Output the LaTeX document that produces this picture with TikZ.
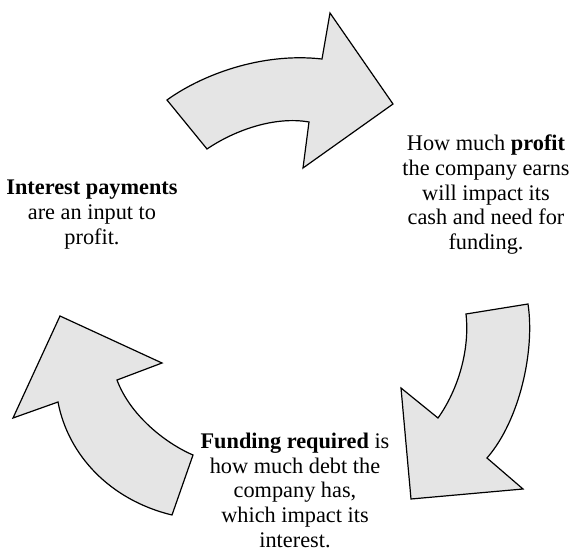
\documentclass[tikz,border=0pt]{standalone}
\usepackage{fontspec}
\setmainfont{Liberation Serif}
\usetikzlibrary{calc}
\definecolor{arrowgray}{gray}{0.9}
\tikzset{
    cyclearrow/.style={draw=black,fill=arrowgray,line width=1.2pt,line join=miter},
    note/.style={align=center,inner sep=0pt,anchor=north,font=\fontsize{22.3}{24.6}\selectfont}
}
\begin{document}
\begin{tikzpicture}[x=1pt,y=-1pt]
\useasboundingbox (0,0) rectangle (576,554);
\draw[cyclearrow] (167,100)..controls(200,76) and (260,52)..(322,59)--(330,13)--(393,104)--(303,168)--(309,122)..controls(275,116) and (235,130)..(207,149)--cycle;
\draw[cyclearrow] (466,314)--(528,304)..controls(535,350) and (520,420)..(487,458)--(523,489)--(411,499)--(401,388)--(438,418)..controls(458,390) and (470,350)..(466,314)--cycle;
\draw[cyclearrow] (172,515)--(193,455)..controls(165,443) and (130,415)..(117,380)--(162,363)--(60,316)--(13,418)--(58,402)..controls(68,455) and (110,500)..(172,515)--cycle;
\node[note] (profit) at (486,135) {How much \textbf{profit}\\the company earns\\will impact its\\cash and need for\\funding.};
\node[note] (interest) at (92,180) {\textbf{Interest payments}\\are an input to\\profit.};
\node[note] (funding) at (295,433) {\textbf{Funding required} is\\how much debt the\\company has,\\which impact its\\interest.};
\end{tikzpicture}
\end{document}
